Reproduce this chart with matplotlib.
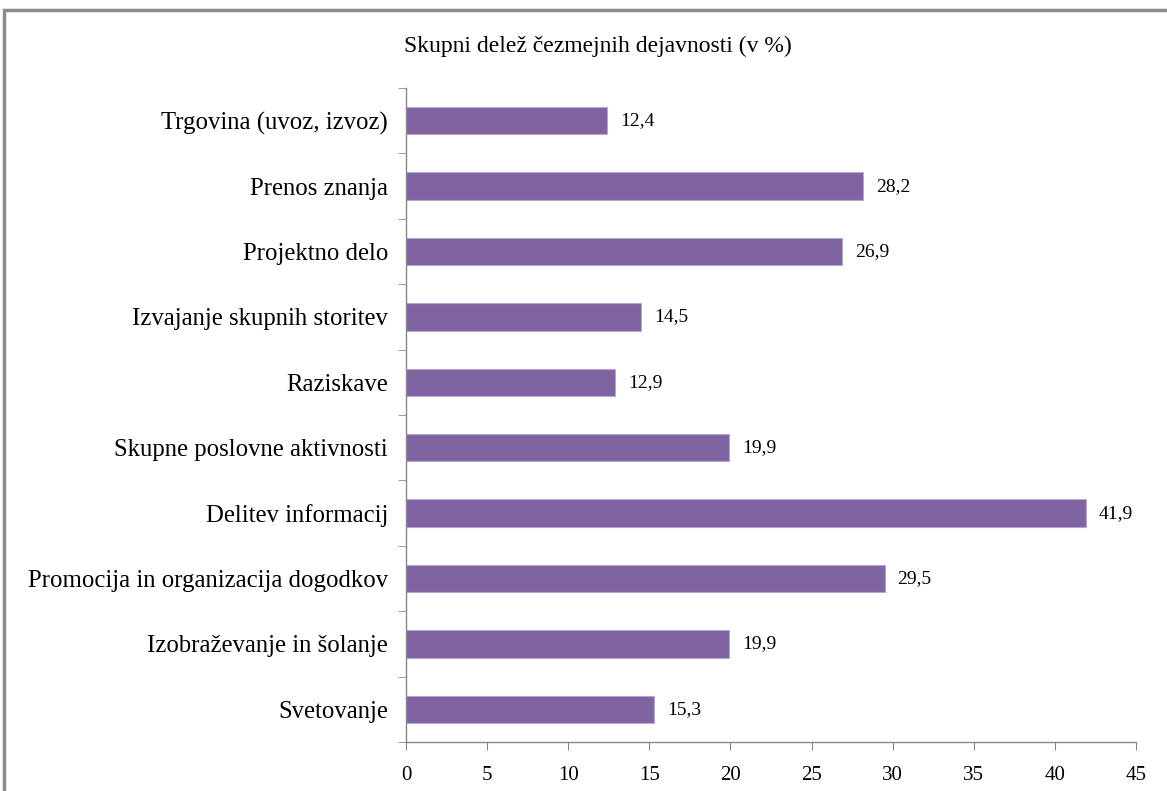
import matplotlib.pyplot as plt
from matplotlib.patches import Rectangle

# categories listed top to bottom
categories = [
    "Trgovina (uvoz, izvoz)",
    "Prenos znanja",
    "Projektno delo",
    "Izvajanje skupnih storitev",
    "Raziskave",
    "Skupne poslovne aktivnosti",
    "Delitev informacij",
    "Promocija in organizacija dogodkov",
    "Izobraževanje in šolanje",
    "Svetovanje",
]
values = [12.4, 28.2, 26.9, 14.5, 12.9, 19.9, 41.9, 29.5, 19.9, 15.3]
value_labels = ["12,4", "28,2", "26,9", "14,5", "12,9", "19,9", "41,9", "29,5", "19,9", "15,3"]
x_ticks = [0, 5, 10, 15, 20, 25, 30, 35, 40, 45]

BAR_COLOUR = "#8064A2"
AXIS_GREY = "#868686"

plt.rcParams['font.family'] = ['Liberation Serif', 'DejaVu Serif']

fig = plt.figure(figsize=(11.67, 7.91), dpi=100)
ax = fig.add_axes([406 / 1167, 1 - 742 / 791, (1136 - 406) / 1167, (742 - 88) / 791])

n = len(categories)
ypos = list(range(n))[::-1]
ax.barh(ypos, values, height=0.42, color=BAR_COLOUR, edgecolor="#B7A6CC", linewidth=0.8)

for y, v, lab in zip(ypos, values, value_labels):
    ax.text(v + 0.8, y, lab, va='center', ha='left', fontsize=14)

ax.set_xlim(0, 45)
ax.set_ylim(-0.5, n - 0.5)
ax.set_xticks(x_ticks)
ax.set_xticklabels([str(t) for t in x_ticks], fontsize=15)

# category labels at bar centres, ticks at the boundaries
ax.set_yticks(ypos)
ax.set_yticklabels(categories, fontsize=17.8)
ax.tick_params(axis='y', length=0, pad=13)
ax.set_yticks([i - 0.5 for i in range(n + 1)], minor=True)
ax.tick_params(axis='y', which='minor', length=6, color=AXIS_GREY, direction='out')
ax.tick_params(axis='x', length=6, color=AXIS_GREY, direction='out', pad=11)

for side in ['top', 'right']:
    ax.spines[side].set_visible(False)
for side in ['left', 'bottom']:
    ax.spines[side].set_color(AXIS_GREY)
    ax.spines[side].set_linewidth(1.0)

fig.text(598 / 1167, 1 - 46 / 791, "Skupni delež čezmejnih dejavnosti (v %)",
         ha='center', va='center', fontsize=17)

# chart frame (right and bottom edges fall outside the picture)
fig.patches.append(Rectangle((4 / 1167, -0.05), 1.1, 1.05 - 10 / 791,
                             transform=fig.transFigure, fill=False,
                             edgecolor="#8C8C8C", linewidth=2.5))

fig.savefig("out.png", dpi=100)
